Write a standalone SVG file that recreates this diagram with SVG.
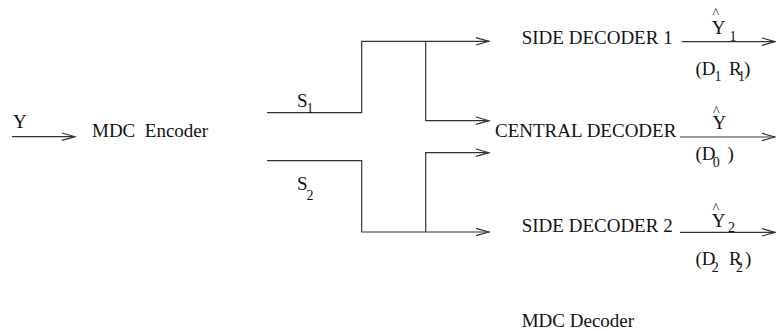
<svg xmlns="http://www.w3.org/2000/svg" width="776" height="331" viewBox="0 0 776 331">
<style>
text{font-family:"Liberation Serif","Times New Roman",serif;font-size:19px;fill:#111;white-space:pre}
.sub{font-size:14px}
.hat{font-size:14px}
.ln{fill:none;stroke:#333;stroke-width:1.2}
</style>
<defs>
<marker id="ah" markerUnits="userSpaceOnUse" markerWidth="16" markerHeight="10" refX="14" refY="5" orient="auto">
<polyline points="1,1.3 14,5 1,8.7" fill="none" stroke="#333" stroke-width="1.2"/>
</marker>
</defs>
<g id="connectors">
<line class="ln" x1="12" y1="136.7" x2="75" y2="136.7" marker-end="url(#ah)"/>
<polyline class="ln" points="267,112.7 361.7,112.7 361.7,41.3 489,41.3" marker-end="url(#ah)"/>
<polyline class="ln" points="425.7,41.3 425.7,120.7 489,120.7" marker-end="url(#ah)"/>
<polyline class="ln" points="267,160.7 361.7,160.7 361.7,232 489,232" marker-end="url(#ah)"/>
<polyline class="ln" points="425.7,232 425.7,152.7 489,152.7" marker-end="url(#ah)"/>
<line class="ln" x1="681.7" y1="41.7" x2="775" y2="41.7" marker-end="url(#ah)"/>
<line class="ln" x1="680" y1="137" x2="775" y2="137" marker-end="url(#ah)"/>
<line class="ln" x1="680" y1="232.3" x2="775" y2="232.3" marker-end="url(#ah)"/>
</g>
<g id="input">
<text x="13" y="128">Y</text>
</g>
<g id="encoder">
<text x="92" y="136.7">MDC  Encoder</text>
</g>
<g id="s1">
<text x="297" y="106.7">S</text><text class="sub" x="306.5" y="113">1</text>
</g>
<g id="s2">
<text x="297" y="190">S</text><text class="sub" x="306.5" y="200">2</text>
</g>
<g id="side1">
<text x="521.7" y="44.3">SIDE DECODER 1</text>
</g>
<g id="central">
<text x="495" y="136.7">CENTRAL DECODER</text>
</g>
<g id="side2">
<text x="521.7" y="231.7">SIDE DECODER 2</text>
</g>
<g id="decoder">
<text x="521.7" y="326.7">MDC Decoder</text>
</g>
<g id="out1">
<text class="hat" x="712.5" y="18">^</text>
<text x="711.7" y="34.3">Y</text><text class="sub" x="729.5" y="41">1</text>
<text x="695.5" y="75">(D</text><text class="sub" x="714.5" y="81">1</text>
<text x="729" y="75">R</text><text class="sub" x="738" y="81">1</text>
<text x="744" y="75">)</text>
</g>
<g id="out0">
<text class="hat" x="713" y="116">^</text>
<text x="712.5" y="129">Y</text>
<text x="695.5" y="160">(D</text><text class="sub" x="712.7" y="167">0</text>
<text x="727.5" y="160">)</text>
</g>
<g id="out2">
<text class="hat" x="712.5" y="213">^</text>
<text x="711.7" y="226.7">Y</text><text class="sub" x="728" y="232">2</text>
<text x="695.5" y="265">(D</text><text class="sub" x="711.7" y="272">2</text>
<text x="729" y="265">R</text><text class="sub" x="736" y="272">2</text>
<text x="745" y="265">)</text>
</g>
</svg>
